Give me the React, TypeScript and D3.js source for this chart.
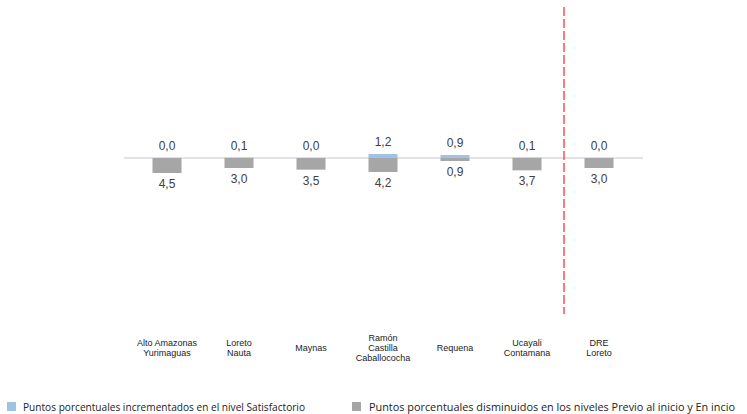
import React from "react";
import * as d3 from "d3";

const categories: string[][] = [
  ["Alto Amazonas", "Yurimaguas"],
  ["Loreto", "Nauta"],
  ["Maynas"],
  ["Ramón", "Castilla", "Caballococha"],
  ["Requena"],
  ["Ucayali", "Contamana"],
  ["DRE", "Loreto"],
];
const increased: number[] = [0.0, 0.1, 0.0, 1.2, 0.9, 0.1, 0.0];
const decreased: number[] = [4.5, 3.0, 3.5, 4.2, 0.9, 3.7, 3.0];
const legendLabels: string[] = [
  "Puntos porcentuales incrementados en el nivel Satisfactorio",
  "Puntos porcentuales disminuidos en los niveles Previo al inicio y En incio",
];

const W = 747;
const H = 414;
const BLUE = "#9dc3e6";
const GRAY = "#a6a6a6";

export default function App() {
  const idx = categories.map((_, i) => i);
  const x = d3.scaleBand<number>().domain(idx).range([131, 635]).paddingInner(0.58).paddingOuter(0.29);
  const baseY = 158;
  const y = d3.scaleLinear().domain([-4.5, 4.5]).range([baseY + 15, baseY - 15]);
  const fmt = (v: number) => d3.format(".1f")(v).replace(".", ",");
  const center = (i: number) => (x(i) as number) + x.bandwidth() / 2;
  const bw = 29;

  return (
    <svg width={W} height={H} style={{ position: "absolute", left: 0, top: 0, background: "#fff" }}
      fontFamily="'Liberation Sans', Arial, sans-serif">
      <line x1={124} x2={643} y1={baseY} y2={baseY} stroke="#d9d9d9" strokeWidth={1.5} />
      {idx.map((i) => {
        const cx = center(i);
        const top = y(increased[i]);
        const bot = y(-decreased[i]);
        return (
          <g key={i}>
            <rect x={cx - bw / 2} y={baseY} width={bw} height={bot - baseY} fill={GRAY} />
            {increased[i] > 0.05 && (
              <rect x={cx - bw / 2} y={top} width={bw} height={baseY - top} fill={BLUE} />
            )}
            <text x={cx} y={top - 8} textAnchor="middle" fontSize={12} fill="#404040">{fmt(increased[i])}</text>
            <text x={cx} y={bot + 15} textAnchor="middle" fontSize={12} fill="#404040">{fmt(decreased[i])}</text>
            {categories[i].map((ln, k) => (
              <text key={k} x={cx} y={348 + (k - (categories[i].length - 1) / 2) * 10 + 3}
                textAnchor="middle" fontSize={9} fill="#222">{ln}</text>
            ))}
          </g>
        );
      })}
      <line x1={564} x2={564} y1={7} y2={314} stroke="#ff5050" strokeWidth={1.5} strokeDasharray="9,3" />
      <rect x={7} y={402} width={9} height={9} fill={BLUE} />
      <text x={23} y={411} fontSize={10.5} fill="#222" fontFamily="'Open Sans', sans-serif"
        textLength={282} lengthAdjust="spacingAndGlyphs">{legendLabels[0]}</text>
      <rect x={352} y={402} width={9} height={9} fill={GRAY} />
      <text x={369} y={411} fontSize={10.5} fill="#222" fontFamily="'Open Sans', sans-serif"
        textLength={366} lengthAdjust="spacingAndGlyphs">{legendLabels[1]}</text>
    </svg>
  );
}
